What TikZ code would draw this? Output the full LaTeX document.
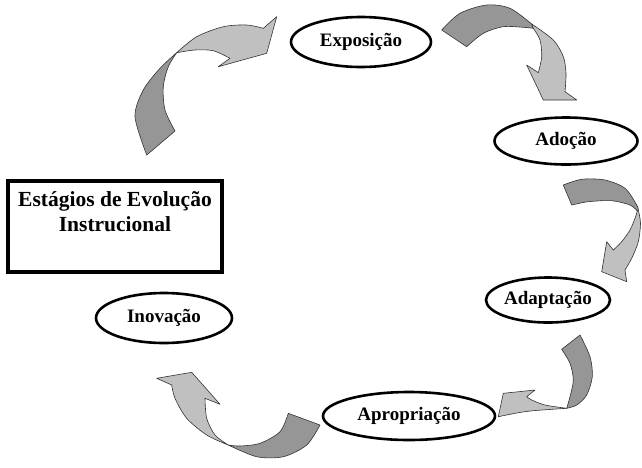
\documentclass[tikz,border=0pt]{standalone}
\usepackage{fontspec}
\setmainfont{Liberation Serif}
\usetikzlibrary{shapes.geometric}
\definecolor{lightribbon}{RGB}{192,192,192}
\definecolor{darkribbon}{RGB}{150,150,150}
\tikzset{
  stage/.style={ellipse, draw=black, line width=2.6pt, fill=white, inner sep=0pt,
    font=\fontsize{19}{22}\selectfont\bfseries},
  lightpart/.style={fill=lightribbon, draw=black!80, line width=0.6pt, line join=round},
  darkpart/.style={fill=darkribbon, draw=black!80, line width=0.6pt, line join=round},
  titlebox/.style={draw=black, line width=4pt, fill=white, inner sep=0pt}
}
\begin{document}
\begin{tikzpicture}[x=1pt,y=-1pt]
\useasboundingbox (0,0) rectangle (642,467);

% stage ellipses
\node[stage, minimum width=140pt, minimum height=50pt] (expo) at (361,42) {Exposição};
\node[stage, minimum width=143pt, minimum height=47pt] (adoc) at (566,141) {Adoção};
\node[stage, minimum width=124pt, minimum height=45pt] (adap) at (548,300) {Adaptação};
\node[stage, minimum width=172pt, minimum height=48pt] (apro) at (409,416) {Apropriação};
\node[stage, minimum width=136pt, minimum height=50pt] (inov) at (164,318) {Inovação};

% title box
\node[titlebox, minimum width=214pt, minimum height=91pt] (title) at (115,226.5) {};
\node[font=\fontsize{21.5}{25}\selectfont\bfseries, align=center, anchor=north] (titletext)
  at (115,188) {Estágios de Evolução\\Instrucional};

% arrow 1 (Inovacao -> Exposicao)
\draw[darkpart] plot[smooth] coordinates {(176.7,52.7) (160,68.3) (143.3,90) (135,116.7) (146.7,155)}
  -- (175,131) -- plot[smooth] coordinates {(175,131) (165,110) (163.3,86.7) (168.3,66.7) (176.7,52.7)} -- cycle;
\draw[lightpart] plot[smooth] coordinates {(176.7,52.7) (196.7,36.7) (223.3,26.7) (246.7,25) (263.3,28.3)}
  -- (276.7,16.7) -- (266.7,53.3) -- (218.3,66.7) -- (230,58.3)
  -- plot[smooth] coordinates {(230,58.3) (213.3,50.7) (195,50) (176.7,52.7)} -- cycle;

% arrow 2 (Exposicao -> Adocao)
\draw[darkpart] plot[smooth] coordinates {(441.7,30) (460,13.3) (486.7,5) (510,8.3) (531.7,24)}
  -- plot[smooth] coordinates {(533.3,28.3) (523.3,27.3) (503.3,26.7) (483.3,33.3) (466.7,46.7)} -- cycle;
\draw[lightpart] plot[smooth] coordinates {(531.7,24) (553.3,40) (563.3,56.7) (566,73.3) (565,91.7)}
  -- (576.7,100) -- (543.3,100) -- (526.7,65) -- (538.3,72.7)
  -- plot[smooth] coordinates {(538.3,72.7) (541.7,56.7) (540,40) (533.3,28.3)} -- cycle;

% arrow 3 (Adocao -> Adaptacao)
\draw[darkpart] plot[smooth] coordinates {(563.3,185) (581.7,179.3) (605,180) (625,188.3) (636.7,205) (638.3,210)}
  -- plot[smooth] coordinates {(637.3,211) (630,205) (611.7,200.7) (588.3,201.7) (571.7,205)} -- cycle;
\draw[lightpart] plot[smooth] coordinates {(638.3,210) (640.5,223.3) (638.3,241.7) (631.7,258.3) (625,270)}
  -- (626.7,281.7) -- (601.7,271.7) -- (606.7,241.7) -- (613.3,250)
  -- plot[smooth] coordinates {(613.3,250) (621.7,241.7) (630,230) (635,218.3) (637.3,211)} -- cycle;

% arrow 4 (Adaptacao -> Apropriacao)
\draw[darkpart] plot[smooth] coordinates {(566.7,408.3) (576.7,405) (586.7,395) (592.3,376.7) (590,356.7) (580,335)}
  -- (561.7,349.3) -- plot[smooth] coordinates {(561.7,349.3) (570,363.3) (573.3,380) (570,396.7) (566.7,408.3)} -- cycle;
\draw[lightpart] plot[smooth] coordinates {(566.7,408.3) (545,405) (531.7,400) (526.7,396.7)}
  -- (535,390) -- (503.3,393.3) -- (498.3,416.7)
  -- plot[smooth] coordinates {(498.3,416.7) (516.7,413) (533.3,410.7) (566.7,408.3)} -- cycle;

% arrow 5 (Apropriacao -> Inovacao)
\draw[darkpart] plot[smooth] coordinates {(228.3,445) (256.7,456.7) (283.3,456.7) (306.7,445) (320,425)}
  -- (288.3,413.3) -- plot[smooth] coordinates {(288.3,413.3) (280,431.7) (260,443.3) (240,446) (228.3,445)} -- cycle;
\draw[lightpart] plot[smooth] coordinates {(228.3,445) (206.7,435) (186.7,418.3) (175,398.3) (171.7,385)}
  -- (156.7,378.3) -- (191.7,372.3) -- (220,404.3) -- (205,398.3)
  -- plot[smooth] coordinates {(205,398.3) (206.7,418.3) (215,435) (228.3,445)} -- cycle;
\end{tikzpicture}
\end{document}
